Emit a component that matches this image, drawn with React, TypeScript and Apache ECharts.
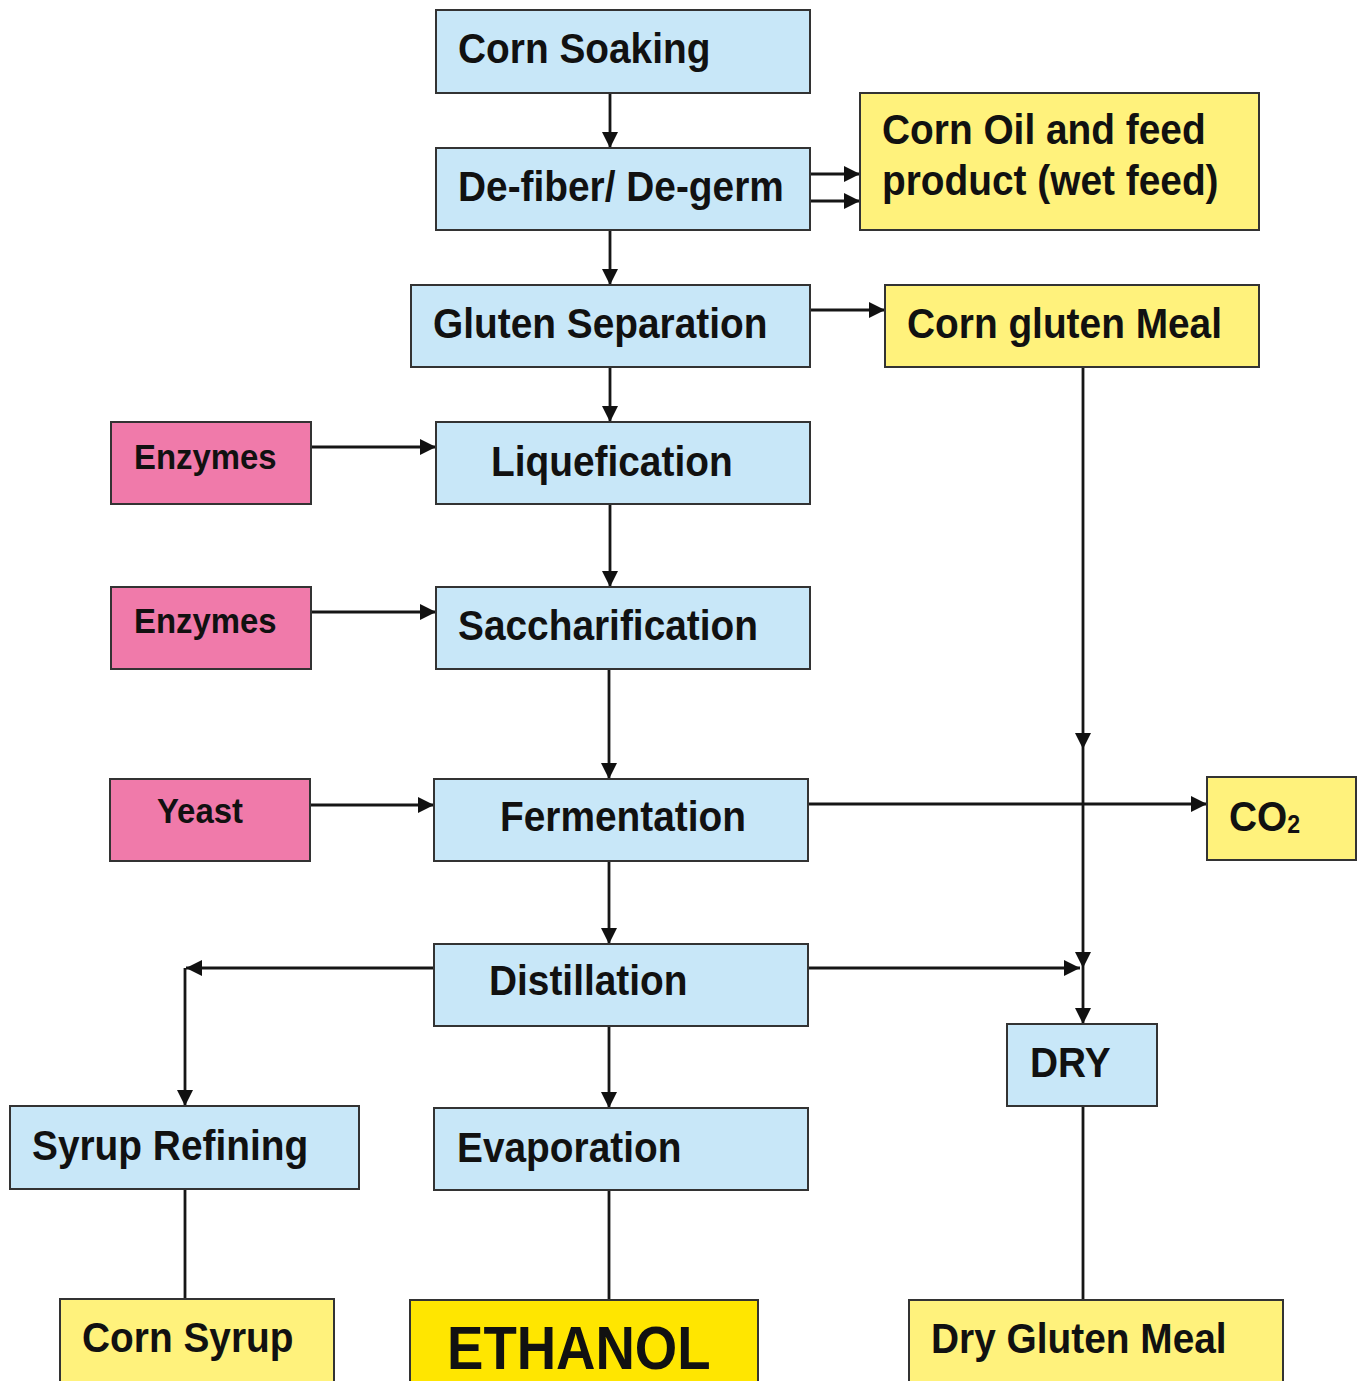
import React, { useEffect, useRef } from "react";
import * as echarts from "echarts";

const W = 1359;
const H = 1381;

// ---- flowchart nodes ----
const nodeLabels = [
  "Corn Soaking",
  "De-fiber/ De-germ",
  "Corn Oil and feed\nproduct (wet feed)",
  "Gluten Separation",
  "Corn gluten Meal",
  "Enzymes",
  "Liquefication",
  "Enzymes",
  "Saccharification",
  "Yeast",
  "Fermentation",
  "{m|CO}{s|2}",
  "Distillation",
  "DRY",
  "Syrup Refining",
  "Evaporation",
  "Corn Syrup",
  "ETHANOL",
  "Dry Gluten Meal",
];
const nodeKind = [
  "step", "step", "product", "step", "product", "input", "step", "input", "step", "input",
  "step", "product", "step", "step", "step", "step", "product", "final", "product",
];
const nodeLeft = [436, 436, 860, 411, 885, 111, 436, 111, 436, 110, 434, 1207, 434, 1007, 10, 434, 60, 410, 909];
const nodeTop = [10, 148, 93, 285, 285, 422, 422, 587, 587, 779, 779, 777, 944, 1024, 1106, 1108, 1299, 1300, 1300];
const nodeRight = [810, 810, 1259, 810, 1259, 311, 810, 311, 810, 310, 808, 1356, 808, 1157, 359, 808, 334, 758, 1283];
const nodeBottom = [93, 230, 230, 367, 367, 504, 504, 669, 669, 861, 861, 860, 1026, 1106, 1189, 1190, 1395, 1395, 1395];
const labelX = [458, 458, 882, 433, 907, 134, 491, 134, 458, 157, 500, 1229, 489, 1030, 32, 457, 82, 447, 931];
const labelY = [48, 186, 155, 323, 323, 457, 461, 621, 625, 811, 816, 816, 980, 1062, 1145, 1147, 1337, 1347, 1338];

// ---- connectors ----
const linkPoints: number[][][] = [
  [[610, 93], [610, 148]],
  [[810, 174], [860, 174]],
  [[810, 201], [860, 201]],
  [[610, 230], [610, 285]],
  [[810, 310], [885, 310]],
  [[610, 367], [610, 422]],
  [[311, 447], [436, 447]],
  [[610, 504], [610, 587]],
  [[311, 612], [436, 612]],
  [[609, 669], [609, 779]],
  [[310, 805], [434, 805]],
  [[808, 804], [1207, 804]],
  [[609, 861], [609, 944]],
  [[1083, 367], [1083, 749]],
  [[1083, 749], [1083, 968]],
  [[1083, 968], [1083, 1024]],
  [[808, 968], [1080, 968]],
  [[434, 968], [186, 968]],
  [[185, 968], [185, 1106]],
  [[609, 1026], [609, 1108]],
  [[185, 1189], [185, 1299]],
  [[609, 1190], [609, 1300]],
  [[1083, 1106], [1083, 1300]],
];
const linkArrow = [
  true, true, true, true, true, true, true, true, true, true, true, true, true,
  true, true, true, true, true, true, true, false, false, false,
];

const FILL: Record<string, string> = {
  step: "#C8E7F8",
  product: "#FFF27C",
  input: "#F07AAA",
  final: "#FFE600",
};
const FONT_SIZE: Record<string, number> = { step: 42, product: 42, input: 35, final: 62 };
const FONT_SCALE_X: Record<string, number> = { step: 0.925, product: 0.925, input: 0.94, final: 0.88 };
const FONT = '"Liberation Sans", Arial, Helvetica, sans-serif';

export default function App() {
  const ref = useRef<HTMLDivElement>(null);
  useEffect(() => {
    if (!ref.current) return;
    const chart = echarts.init(ref.current, undefined, { renderer: "svg" });
    const option: any = {
      animation: false,
      backgroundColor: "#ffffff",
      grid: { left: 0, right: 0, top: 0, bottom: 0 },
      xAxis: { type: "value", min: 0, max: W, show: false },
      yAxis: { type: "value", min: 0, max: H, inverse: true, show: false },
      series: [
        {
          type: "custom",
          name: "links",
          coordinateSystem: "cartesian2d",
          clip: false,
          data: linkPoints.map((pts) => pts[0]),
          encode: { x: 0, y: 1 },
          renderItem: (params: any, api: any) => {
            const i = params.dataIndex;
            const pts = linkPoints[i].map((p) => api.coord(p));
            const children: any[] = [
              {
                type: "polyline",
                shape: { points: pts },
                style: { stroke: "#161616", lineWidth: 2.8, fill: "none" },
              },
            ];
            if (linkArrow[i]) {
              const tip = pts[pts.length - 1];
              const prev = pts[pts.length - 2];
              const dx = tip[0] - prev[0];
              const dy = tip[1] - prev[1];
              const len = Math.sqrt(dx * dx + dy * dy) || 1;
              const ux = dx / len;
              const uy = dy / len;
              const L = 16;
              const hw = 8;
              const bx = tip[0] - ux * L;
              const by = tip[1] - uy * L;
              children.push({
                type: "polygon",
                shape: {
                  points: [
                    [tip[0], tip[1]],
                    [bx - uy * hw, by + ux * hw],
                    [bx + uy * hw, by - ux * hw],
                  ],
                },
                style: { fill: "#111111" },
              });
            }
            return { type: "group", children };
          },
          z: 1,
        },
        {
          type: "custom",
          name: "nodes",
          coordinateSystem: "cartesian2d",
          clip: false,
          data: nodeLabels.map((_, i) => [nodeLeft[i], nodeTop[i], nodeRight[i], nodeBottom[i]]),
          encode: { x: [0, 2], y: [1, 3] },
          renderItem: (params: any, api: any) => {
            const i = params.dataIndex;
            const p1 = api.coord([nodeLeft[i], nodeTop[i]]);
            const p2 = api.coord([nodeRight[i], nodeBottom[i]]);
            const t = api.coord([labelX[i], labelY[i]]);
            const kind = nodeKind[i];
            const fs = FONT_SIZE[kind];
            return {
              type: "group",
              children: [
                {
                  type: "rect",
                  shape: { x: p1[0], y: p1[1], width: p2[0] - p1[0], height: p2[1] - p1[1] },
                  style: { fill: FILL[kind], stroke: "#333333", lineWidth: 2 },
                },
                {
                  type: "text",
                  x: t[0],
                  y: t[1],
                  scaleX: FONT_SCALE_X[kind],
                  style: {
                    text: nodeLabels[i],
                    fill: "#111111",
                    fontFamily: FONT,
                    fontWeight: "bold",
                    fontSize: fs,
                    lineHeight: 51,
                    align: "left",
                    verticalAlign: "middle",
                    rich: {
                      m: { fontFamily: FONT, fontWeight: "bold", fontSize: 42, lineHeight: 42, fill: "#111111" },
                      s: {
                        fontFamily: FONT,
                        fontWeight: "bold",
                        fontSize: 25,
                        lineHeight: 20,
                        verticalAlign: "bottom",
                        fill: "#111111",
                      },
                    },
                  },
                },
              ],
            };
          },
          z: 2,
        },
      ],
    };
    chart.setOption(option);
    return () => chart.dispose();
  }, []);
  return (
    <div
      ref={ref}
      style={{ position: "absolute", left: 0, top: 0, width: W, height: H, background: "#fff" }}
    />
  );
}
